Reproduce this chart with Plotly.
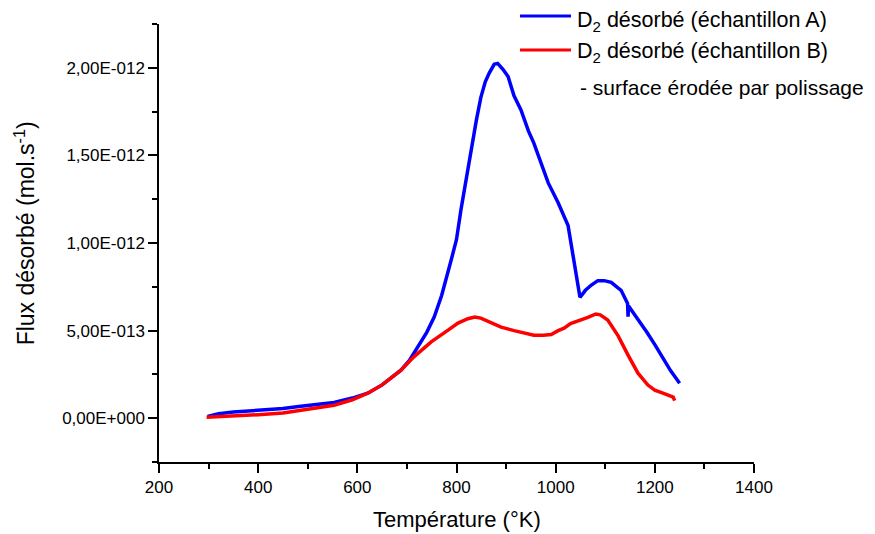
import plotly.graph_objects as go

# Sample A (blue)
temp_a = [298, 320, 350, 400, 450, 486, 520, 553, 590, 621, 650, 688, 705, 720, 740,
          755, 770, 789, 800, 809, 820, 829, 840, 849, 858, 866, 876, 883, 894, 904,
          916, 930, 945, 956, 970, 985, 1005, 1020, 1025, 1049, 1060, 1072, 1085, 1098,
          1112, 1125, 1132, 1145, 1146, 1147, 1160, 1170, 1184, 1200, 1216, 1232, 1250]
flux_a = [0.010, 0.025, 0.035, 0.045, 0.055, 0.068, 0.080, 0.090, 0.115, 0.143, 0.190,
          0.274, 0.330, 0.400, 0.490, 0.577, 0.700, 0.900, 1.020, 1.190, 1.380, 1.530,
          1.700, 1.830, 1.920, 1.970, 2.020, 2.025, 1.990, 1.950, 1.840, 1.760, 1.640,
          1.570, 1.460, 1.343, 1.230, 1.140, 1.100, 0.690, 0.730, 0.760, 0.785, 0.785,
          0.775, 0.745, 0.730, 0.655, 0.580, 0.640, 0.590, 0.550, 0.490, 0.420, 0.340,
          0.270, 0.200]

# Sample B (red)
temp_b = [296, 320, 350, 400, 450, 486, 520, 553, 590, 621, 650, 688, 714, 749, 783,
          803, 823, 837, 849, 870, 890, 916, 936, 956, 975, 991, 1005, 1017, 1030, 1051,
          1065, 1081, 1090, 1105, 1120, 1126, 1146, 1166, 1186, 1200, 1219, 1237, 1240]
flux_b = [0.005, 0.008, 0.010, 0.020, 0.030, 0.045, 0.060, 0.074, 0.105, 0.143, 0.190,
          0.274, 0.350, 0.436, 0.503, 0.543, 0.568, 0.578, 0.571, 0.545, 0.520, 0.500,
          0.485, 0.474, 0.474, 0.478, 0.500, 0.514, 0.540, 0.560, 0.575, 0.595, 0.590,
          0.560, 0.500, 0.470, 0.360, 0.257, 0.189, 0.160, 0.140, 0.120, 0.100]

scale = 1e-12
y_tickvals = [0, 5e-13, 1e-12, 1.5e-12, 2e-12]
y_ticktext = ["0,00E+000", "5,00E-013", "1,00E-012", "1,50E-012", "2,00E-012"]
x_tickvals = [200, 400, 600, 800, 1000, 1200, 1400]

FONT = "Liberation Sans, Arial, sans-serif"

fig = go.Figure()
fig.add_trace(go.Scatter(x=temp_a, y=[v * scale for v in flux_a], mode="lines",
                         line=dict(color="#0000FF", width=3.5), name="A"))
fig.add_trace(go.Scatter(x=temp_b, y=[v * scale for v in flux_b], mode="lines",
                         line=dict(color="#FF0000", width=3.5), name="B"))

axis_common = dict(showline=True, linecolor="black", linewidth=1.5, ticks="outside",
                   ticklen=9, tickwidth=1.5, tickcolor="black", showgrid=False,
                   zeroline=False, tickfont=dict(family=FONT, size=17, color="black"))

fig.update_xaxes(range=[200, 1400], tickvals=x_tickvals,
                 minor=dict(dtick=100, ticks="outside", ticklen=5, tickwidth=1.5,
                            tickcolor="black", tick0=200),
                 **axis_common)
fig.update_yaxes(range=[-2.5e-13, 2.25e-12], tickvals=y_tickvals, ticktext=y_ticktext,
                 minor=dict(dtick=2.5e-13, ticks="outside", ticklen=5, tickwidth=1.5,
                            tickcolor="black", tick0=0),
                 **axis_common)

annotations = [
    dict(text="Température (°K)", x=0.5, y=-0.1324, xref="paper", yref="paper",
         xanchor="center", yanchor="middle", showarrow=False,
         font=dict(family=FONT, size=22, color="black")),
    dict(text="Flux désorbé (mol.s<sup>-1</sup>)", x=-0.2252, y=0.522, xref="paper",
         yref="paper", xanchor="center", yanchor="middle", textangle=-90, showarrow=False,
         font=dict(family=FONT, size=23, color="black")),
    dict(text="D<sub>2</sub> désorbé (échantillon A)", x=0.699, y=1.0068, xref="paper",
         yref="paper", xanchor="left", yanchor="middle", showarrow=False,
         font=dict(family=FONT, size=21.5, color="black")),
    dict(text="D<sub>2</sub> désorbé (échantillon B)", x=0.699, y=0.936, xref="paper",
         yref="paper", xanchor="left", yanchor="middle", showarrow=False,
         font=dict(family=FONT, size=21.5, color="black")),
    dict(text="- surface érodée par polissage", x=0.7042, y=0.856, xref="paper",
         yref="paper", xanchor="left", yanchor="middle", showarrow=False,
         font=dict(family=FONT, size=21, color="black")),
]

shapes = [
    dict(type="line", xref="paper", yref="paper", x0=0.6067, x1=0.6924, y0=1.0183, y1=1.0183,
         line=dict(color="#0000FF", width=3)),
    dict(type="line", xref="paper", yref="paper", x0=0.6067, x1=0.6924, y0=0.9406, y1=0.9406,
         line=dict(color="#FF0000", width=3)),
]

fig.update_layout(width=867, height=526, margin=dict(l=151, r=121, t=16, b=72),
                  plot_bgcolor="white", paper_bgcolor="white", showlegend=False,
                  annotations=annotations, shapes=shapes,
                  font=dict(family=FONT, color="black"))

fig.write_html("out.html")
